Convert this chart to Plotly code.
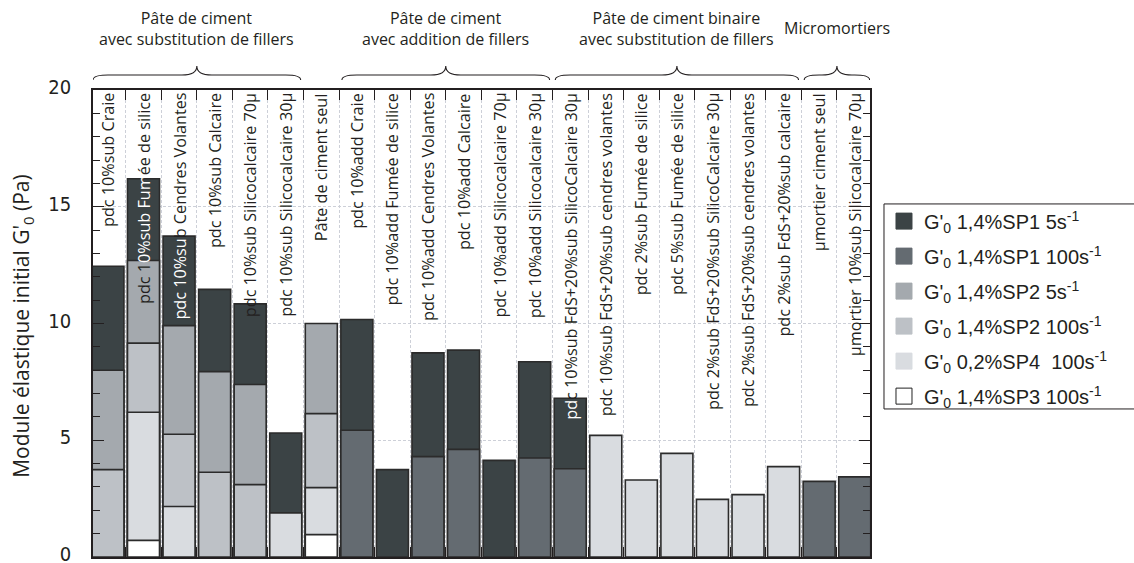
import plotly.graph_objects as go

# ---------------- data ----------------
categories = [
    "pdc 10%sub Craie",
    "pdc 10%sub Fumée de silice",
    "pdc 10%sub Cendres Volantes",
    "pdc 10%sub Calcaire",
    "pdc 10%sub Silicocalcaire 70µ",
    "pdc 10%sub Silicocalcaire 30µ",
    "Pâte de ciment seul",
    "pdc 10%add Craie",
    "pdc 10%add Fumée de silice",
    "pdc 10%add Cendres Volantes",
    "pdc 10%add Calcaire",
    "pdc 10%add Silicocalcaire 70µ",
    "pdc 10%add Silicocalcaire 30µ",
    "pdc 10%sub FdS+20%sub SilicoCalcaire 30µ",
    "pdc 10%sub FdS+20%sub cendres volantes",
    "pdc 2%sub Fumée de silice",
    "pdc 5%sub Fumée de silice",
    "pdc 2%sub FdS+20%sub SilicoCalcaire 30µ",
    "pdc 2%sub FdS+20%sub cendres volantes",
    "pdc 2%sub FdS+20%sub calcaire",
    "µmortier ciment seul",
    "µmortier 10%sub Silicocalcaire 70µ",
]
# label text rendered with the part lying on a dark bar in white
label_markup = {
    1: "pdc 1<span style='color:white'>0%sub Fum</span>ée de silice",
    2: "<span style='color:white'>pdc 10%su</span>b Cendres Volantes",
    13: "<span style='color:white'>pd</span>c 10%sub FdS+20%sub SilicoCalcaire 30µ",
}

N = None
sp1_5s = [12.45, 16.2, 13.74, 11.46, 10.84, 5.31, N, 10.17, 3.74, 8.74, 8.86, 4.14, 8.36, 6.8,
          N, N, N, N, N, N, N, N]
sp1_100s = [N, N, N, N, N, N, N, 5.43, N, 4.30, 4.61, N, 4.24, 3.78,
            N, N, N, N, N, N, 3.24, 3.43]
sp2_5s = [8.0, 12.7, 9.91, 7.94, 7.39, N, 10.0, N, N, N, N, N, N, N,
          N, N, N, N, N, N, N, N]
sp2_100s = [3.74, 9.16, 5.26, 3.63, 3.10, N, 6.14, N, N, N, N, N, N, N,
            N, N, N, N, N, N, N, N]
sp4_100s = [N, 6.2, 2.16, N, N, 1.89, 2.97, N, N, N, N, N, N, N,
            5.21, 3.30, 4.44, 2.47, 2.67, 3.87, N, N]
sp3_100s = [N, 0.71, N, N, N, N, 0.96, N, N, N, N, N, N, N,
            N, N, N, N, N, N, N, N]

series_names = [
    "G'<sub>0</sub> 1,4%SP1 5s<sup>-1</sup>",
    "G'<sub>0</sub> 1,4%SP1 100s<sup>-1</sup>",
    "G'<sub>0</sub> 1,4%SP2 5s<sup>-1</sup>",
    "G'<sub>0</sub> 1,4%SP2 100s<sup>-1</sup>",
    "G'<sub>0</sub> 0,2%SP4  100s<sup>-1</sup>",
    "G'<sub>0</sub> 1,4%SP3 100s<sup>-1</sup>",
]
series_values = [sp1_5s, sp1_100s, sp2_5s, sp2_100s, sp4_100s, sp3_100s]
series_colors = ["#3b4345", "#646b71", "#a4a9ae", "#bdc1c6", "#d9dce0", "#ffffff"]

group_titles = [
    "Pâte de ciment<br>avec substitution de fillers",
    "Pâte de ciment<br>avec addition de fillers",
    "Pâte de ciment binaire<br>avec substitution de fillers",
    "Micromortiers",
]
group_first = [0, 7, 13, 20]
group_last = [5, 12, 19, 21]

y_ticks = [0, 5, 10, 15, 20]
y_title = "Module élastique initial G'<sub>0</sub> (Pa)"

# ---------------- figure ----------------
xidx = list(range(len(categories)))
fig = go.Figure()

for name, vals, col in zip(series_names, series_values, series_colors):
    fig.add_trace(go.Bar(
        x=xidx, y=vals, width=0.9, name=name, showlegend=False,
        marker=dict(color=col, opacity=1, line=dict(color="#2b2b2b", width=1.6)),
        hoverinfo="y+name",
    ))

# legend-only entries (square swatches)
for i, (name, col) in enumerate(zip(series_names, series_colors)):
    fig.add_trace(go.Scatter(
        x=[None], y=[None], mode="markers", name=name, legendgroup=str(i),
        marker=dict(symbol="square", size=16, color=col,
                    line=dict(color="#222222" if col == "#ffffff" else col, width=1)),
    ))

# vertical category labels
for i, lab in enumerate(categories):
    fig.add_annotation(
        x=i, y=1, xref="x", yref="paper", text=label_markup.get(i, lab),
        textangle=-90, showarrow=False, xanchor="center", yanchor="top", yshift=-1,
        font=dict(family="Open Sans", size=16.2, color="#231f20"),
    )

# group braces and titles
y_end, y_h, y_tip = 1.0214, 1.032, 1.0514
dx = 0.42
for title, a, b in zip(group_titles, group_first, group_last):
    x0 = a - 0.42
    x1 = b + 0.42
    xm = (x0 + x1) / 2
    path = (f"M {x0},{y_end} Q {x0},{y_h} {x0+dx},{y_h} L {xm-dx},{y_h} "
            f"Q {xm},{y_h} {xm},{y_tip} Q {xm},{y_h} {xm+dx},{y_h} "
            f"L {x1-dx},{y_h} Q {x1},{y_h} {x1},{y_end}")
    fig.add_shape(type="path", path=path, xref="x", yref="paper",
                  line=dict(color="#231f20", width=1.1), layer="above")
    fig.add_annotation(
        x=xm, y=1.1317, xref="x", yref="paper", text=title, showarrow=False,
        xanchor="center", yanchor="middle", align="center",
        font=dict(family="Open Sans", size=16, color="#231f20"),
    )

# y-axis title
fig.add_annotation(
    x=-0.0914, y=0.495, xref="paper", yref="paper", text=y_title, textangle=-90,
    showarrow=False, xanchor="center", yanchor="middle",
    font=dict(family="Open Sans", size=21, color="#231f20"),
)

# legend frame (runs off the right edge, as in the source)
fig.add_shape(type="rect", xref="paper", yref="paper", x0=1.018, x1=1.4, y0=0.317, y1=0.756,
              line=dict(color="#231f20", width=1), fillcolor="rgba(0,0,0,0)", layer="above")

grid_col = "#cdd0d8"
fig.update_xaxes(
    range=[-0.42, 21.43], tickvals=[i + 0.5 for i in range(len(categories) - 1)],
    showticklabels=False, ticks="inside", ticklen=10, tickwidth=1.2, tickcolor="#231f20",
    showline=True, linecolor="#231f20", linewidth=1.5, mirror="ticks",
    showgrid=True, gridcolor=grid_col, griddash="3px,2px", gridwidth=1, zeroline=False,
)
fig.update_yaxes(
    range=[0, 20], tickvals=y_ticks, ticks="inside", ticklen=11, tickwidth=1.2,
    tickcolor="#231f20",
    minor=dict(dtick=1, ticks="inside", ticklen=7, tickwidth=1.2, tickcolor="#231f20",
               showgrid=False),
    showline=True, linecolor="#231f20", linewidth=1.5, mirror="ticks",
    showgrid=True, gridcolor=grid_col, griddash="3px,2px", gridwidth=1, zeroline=False,
    tickfont=dict(family="Liberation Sans Narrow, DejaVu Sans Condensed, Arial", size=20,
                  color="#231f20"),
    ticklabelstandoff=16, ticklabeloverflow="allow", ticklabelshift=-3,
)

fig.update_layout(
    width=1134, height=563,
    margin=dict(l=93, r=264, t=90, b=6, autoexpand=False),
    paper_bgcolor="white", plot_bgcolor="white",
    barmode="overlay",
    font=dict(family="Open Sans", color="#231f20"),
    legend=dict(
        x=1.018, y=0.761, xanchor="left", yanchor="top",
        borderwidth=0, bgcolor="rgba(0,0,0,0)",
        font=dict(family="Liberation Sans, Arial", size=20, color="#231f20"),
        tracegroupgap=6,
    ),
)

fig.write_html(
    "out.html",
    config={"displayModeBar": False},
    post_script="document.body.style.margin='0';document.body.style.overflow='hidden';",
)
